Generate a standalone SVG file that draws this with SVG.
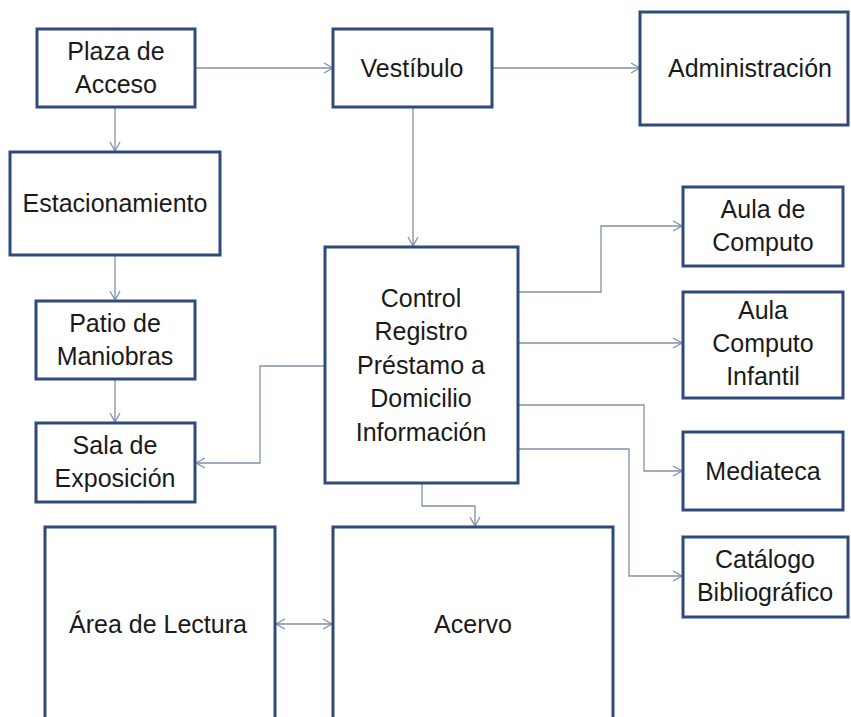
<svg xmlns="http://www.w3.org/2000/svg" width="851" height="717" viewBox="0 0 851 717">
<defs>
<style>
.box{fill:#ffffff;stroke:#2f4a7a;stroke-width:3}
.t{font-family:"Liberation Sans",Arial,sans-serif;font-size:25px;fill:#1a1a1a;text-anchor:middle}
.c{fill:none;stroke:#7f91a8;stroke-width:1.3}
</style>
<marker id="arr" viewBox="0 0 10 12" refX="10" refY="6" markerWidth="10" markerHeight="12" markerUnits="userSpaceOnUse" orient="auto-start-reverse">
<path d="M1,1 L10,6 L1,11" fill="none" stroke="#7f91a8" stroke-width="1.3"/>
</marker>
</defs>
<rect width="851" height="717" fill="#ffffff"/>
<g id="connectors">
<line class="c" x1="195" y1="68" x2="333" y2="68" marker-end="url(#arr)"/>
<line class="c" x1="492" y1="68" x2="640" y2="68" marker-end="url(#arr)"/>
<line class="c" x1="115" y1="108" x2="115" y2="151" marker-end="url(#arr)"/>
<line class="c" x1="413" y1="108" x2="413" y2="246" marker-end="url(#arr)"/>
<line class="c" x1="115" y1="255" x2="115" y2="300" marker-end="url(#arr)"/>
<line class="c" x1="115" y1="379" x2="115" y2="422" marker-end="url(#arr)"/>
<polyline class="c" points="325,366 260,366 260,463 196,463" marker-end="url(#arr)"/>
<polyline class="c" points="518,292 601,292 601,226 682,226" marker-end="url(#arr)"/>
<line class="c" x1="518" y1="343" x2="682" y2="343" marker-end="url(#arr)"/>
<polyline class="c" points="518,405 644,405 644,471 682,471" marker-end="url(#arr)"/>
<polyline class="c" points="518,449 629,449 629,576 682,576" marker-end="url(#arr)"/>
<polyline class="c" points="422,483 422,506 475,506 475,526" marker-end="url(#arr)"/>
<line class="c" x1="276" y1="624" x2="332" y2="624" marker-start="url(#arr)" marker-end="url(#arr)"/>
</g>
<g id="plaza-acceso">
<rect class="box" x="37" y="29" width="158" height="78"/>
<text class="t" x="116" y="60">Plaza de</text>
<text class="t" x="116" y="93">Acceso</text>
</g>
<g id="vestibulo">
<rect class="box" x="333" y="29" width="159" height="78"/>
<text class="t" x="412" y="77">Vestíbulo</text>
</g>
<g id="administracion">
<rect class="box" x="640" y="12" width="208" height="113"/>
<text class="t" x="750" y="77">Administración</text>
</g>
<g id="estacionamiento">
<rect class="box" x="10" y="152" width="210" height="103"/>
<text class="t" x="115" y="212">Estacionamiento</text>
</g>
<g id="patio-maniobras">
<rect class="box" x="36" y="301" width="159" height="78"/>
<text class="t" x="115" y="332">Patio de</text>
<text class="t" x="115" y="365">Maniobras</text>
</g>
<g id="sala-exposicion">
<rect class="box" x="36" y="423" width="159" height="79"/>
<text class="t" x="115" y="454">Sala de</text>
<text class="t" x="115" y="487">Exposición</text>
</g>
<g id="control">
<rect class="box" x="325" y="247" width="193" height="236"/>
<text class="t" x="421" y="307">Control</text>
<text class="t" x="421" y="340">Registro</text>
<text class="t" x="421" y="374">Préstamo a</text>
<text class="t" x="421" y="407">Domicilio</text>
<text class="t" x="421" y="441">Información</text>
</g>
<g id="aula-computo">
<rect class="box" x="683" y="187" width="160" height="79"/>
<text class="t" x="763" y="218">Aula de</text>
<text class="t" x="763" y="251">Computo</text>
</g>
<g id="aula-computo-infantil">
<rect class="box" x="683" y="292" width="160" height="106"/>
<text class="t" x="763" y="319">Aula</text>
<text class="t" x="763" y="352">Computo</text>
<text class="t" x="763" y="385">Infantil</text>
</g>
<g id="mediateca">
<rect class="box" x="683" y="432" width="160" height="78"/>
<text class="t" x="763" y="480">Mediateca</text>
</g>
<g id="catalogo">
<rect class="box" x="683" y="537" width="165" height="80"/>
<text class="t" x="765" y="568">Catálogo</text>
<text class="t" x="765" y="601">Bibliográfico</text>
</g>
<g id="area-lectura">
<rect class="box" x="45" y="527" width="230" height="210"/>
<text class="t" x="158" y="633">Área de Lectura</text>
</g>
<g id="acervo">
<rect class="box" x="333" y="527" width="280" height="210"/>
<text class="t" x="473" y="633">Acervo</text>
</g>
</svg>
